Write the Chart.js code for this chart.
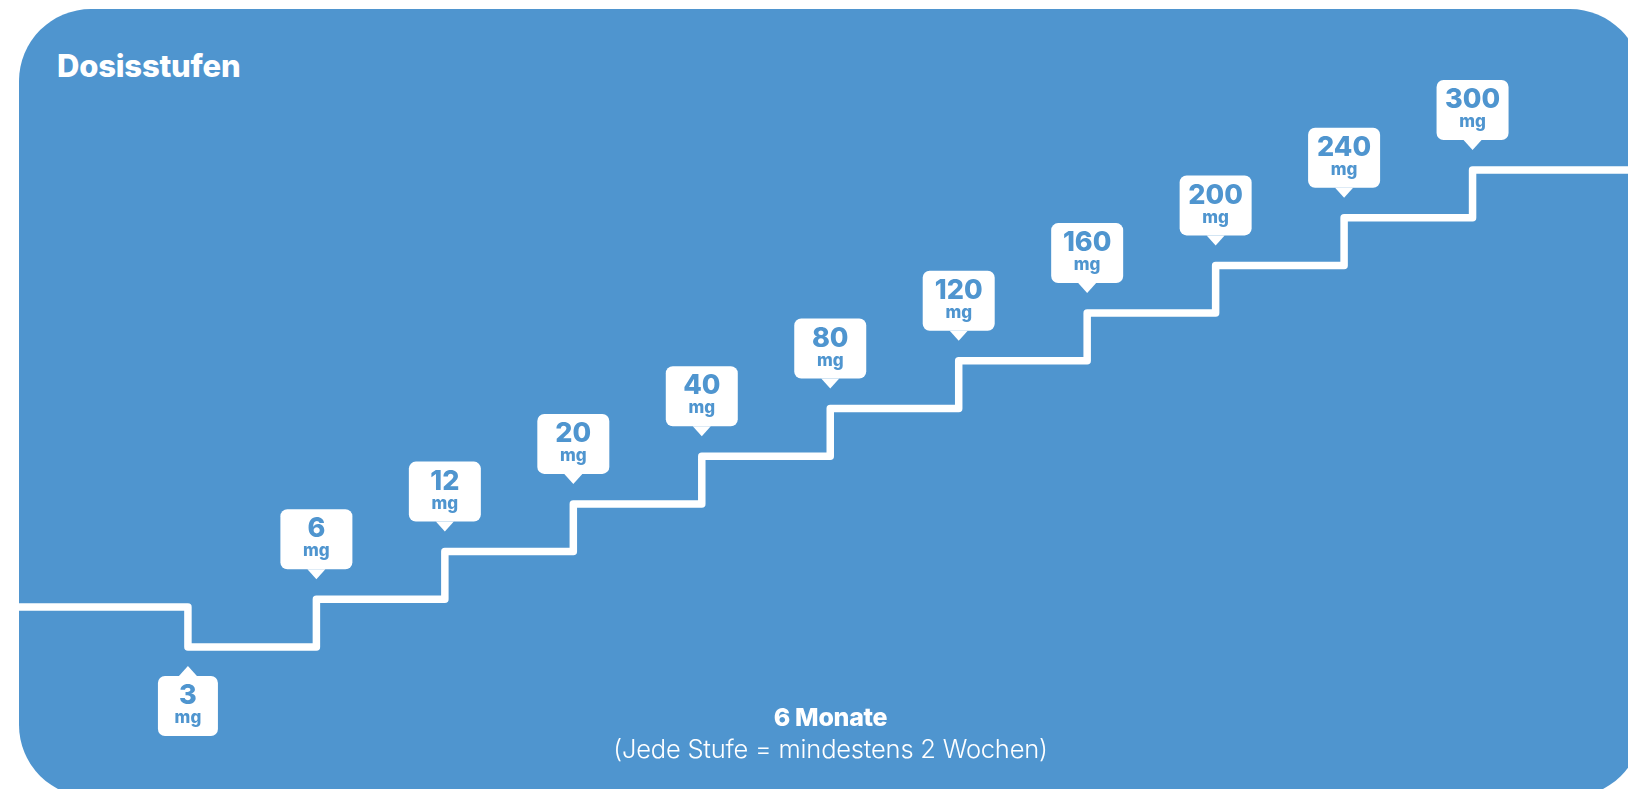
<!DOCTYPE html>
<html lang="de">
<head>
<meta charset="utf-8">
<script src="https://cdn.jsdelivr.net/npm/chart.js@4.4.1/dist/chart.umd.min.js"></script>
<style>
  html, body { margin: 0; padding: 0; background: #fff; overflow: hidden; }
  #wrap { position: relative; width: 1628px; height: 789px; overflow: hidden; }
  #panel {
    position: absolute; left: 19px; top: 9px; width: 1623px; height: 788px;
    background: #4f95cf; border-radius: 72px;
  }
  #title {
    position: absolute; left: 57px; top: 47px; color: #fff;
    font: 800 31px "Inter", "Noto Sans", sans-serif; letter-spacing: -0.2px;
  }
  #foot {
    position: absolute; left: 19px; width: 1623px; top: 701px; text-align: center; color: #fff;
    font-family: "Inter", "Noto Sans", sans-serif;
  }
  #foot .big { font-weight: 800; font-size: 25px; line-height: 32px; letter-spacing: -0.3px; }
  #foot .small { font-weight: 300; font-size: 25.5px; line-height: 32px; letter-spacing: -0.2px; }
  canvas { position: absolute; left: 0; top: 0; }
</style>
</head>
<body>
<div id="wrap">
  <div id="panel"></div>
  <div id="title">Dosisstufen</div>
  <canvas id="stairs" width="1628" height="789"></canvas>
  <div id="foot">
    <div class="big">6 Monate</div>
    <div class="small">(Jede Stufe = mindestens 2 Wochen)</div>
  </div>
</div>
<script>
const doses = ["3", "6", "12", "20", "40", "80", "120", "160", "200", "240", "300"];
const unit = "mg";
// where each step rises (in step widths) and how high its tread sits (in step heights)
const stepPos = [0, 1, 2, 3, 4, 5, 6, 7, 8, 9, 10];
const stepLevel = [0, 1, 2, 3, 4, 5, 6, 7, 8, 9, 10];
// the line comes in from the left a bit above the first tread
const startPos = -1.315;
const startLevel = 0.84;
const endPos = 11.21;

const blue = "#4f95cf";

const points = [{ x: startPos, y: startLevel }];
doses.forEach((d, i) => points.push({ x: stepPos[i], y: stepLevel[i] }));
points.push({ x: endPos, y: stepLevel[stepLevel.length - 1] });

const doseTags = {
  id: "doseTags",
  afterDatasetsDraw(chart) {
    const ctx = chart.ctx;
    const xs = chart.scales.x, ys = chart.scales.y;
    ctx.save();
    doses.forEach((d, i) => {
      const px = xs.getPixelForValue(stepPos[i]);
      const py = ys.getPixelForValue(stepLevel[i]);
      const below = i === 0;
      const w = below ? 60 : 72, h = 60;
      let top, tip, base;
      if (below) {
        tip = py + 19; base = tip + 10; top = base;
      } else {
        tip = py - 20; base = tip - 10; top = base - h;
      }
      ctx.fillStyle = "#fff";
      ctx.beginPath();
      ctx.roundRect(px - w / 2, top, w, h, 7);
      ctx.fill();
      ctx.beginPath();
      ctx.moveTo(px - 9, base);
      ctx.lineTo(px, tip);
      ctx.lineTo(px + 9, base);
      ctx.closePath();
      ctx.fill();

      ctx.fillStyle = blue;
      ctx.textAlign = "center";
      ctx.textBaseline = "middle";
      ctx.font = '800 27px "Inter", "Noto Sans", sans-serif';
      ctx.fillText(d, px, top + 20);
      ctx.font = '800 17px "Inter", "Noto Sans", sans-serif';
      ctx.fillText(unit, px, top + 42);
    });
    ctx.restore();
  }
};

new Chart(document.getElementById("stairs"), {
  type: "line",
  data: {
    datasets: [{
      data: points,
      borderColor: "#fff",
      borderWidth: 7.5,
      borderJoinStyle: "round",
      stepped: "before",
      pointRadius: 0,
      fill: false
    }]
  },
  options: {
    responsive: false,
    animation: false,
    layout: { padding: { left: 19, right: 0, top: 74.6, bottom: 46.6 } },
    scales: {
      x: { type: "linear", min: startPos, max: endPos, display: false },
      y: { type: "linear", min: -2, max: 12, display: false }
    },
    plugins: {
      legend: { display: false },
      tooltip: { enabled: false }
    }
  },
  plugins: [doseTags]
});
</script>
</body>
</html>
